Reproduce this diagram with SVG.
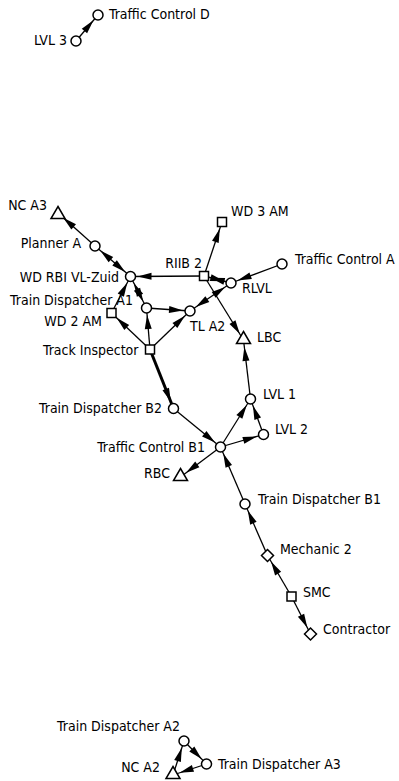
<svg xmlns="http://www.w3.org/2000/svg" xmlns:xlink="http://www.w3.org/1999/xlink" width="399" height="781" viewBox="0 0 399 781">
  <style>
    .edge { stroke: #000; stroke-width: 1.3; fill: none; marker-end: url(#arr); }
    .both { marker-start: url(#arr); }
    .heavy { stroke-width: 3; }
    .node use { fill: #fff; stroke: #000; stroke-width: 1.5; }
    text { font-family: "DejaVu Sans Condensed", "DejaVu Sans", sans-serif; font-stretch: condensed; font-size: 14px; fill: #000; }
    .l { text-anchor: end; }
  </style>
  <defs>
    <marker id="arr" viewBox="-22 -5 22 10" refX="0" refY="0" markerWidth="22" markerHeight="10" markerUnits="userSpaceOnUse" orient="auto-start-reverse">
      <path d="M-7,0 L-21,-3.5 L-21,3.5 z" fill="#000"/>
    </marker>
    <circle id="c" r="5"/>
    <rect id="s" x="-4.5" y="-4.5" width="9" height="9"/>
    <polygon id="t" points="0,-6.5 7,5.5 -7,5.5"/>
    <polygon id="d" points="0,-6 6,0 0,6 -6,0"/>
  </defs>

  <!-- connectors: drawn centre to centre, nodes cover the ends -->
  <g id="edges">
    <line class="edge" x1="76" y1="41" x2="98" y2="15"/>
    <line class="edge" x1="95" y1="246" x2="58" y2="213"/>
    <line class="edge both" x1="95" y1="246" x2="130.5" y2="276.5"/>
    <line class="edge" x1="204" y1="276" x2="130.5" y2="276.5"/>
    <line class="edge" x1="204" y1="276" x2="222" y2="222"/>
    <line class="edge both" x1="204" y1="276" x2="231" y2="283"/>
    <line class="edge" x1="282" y1="264" x2="231" y2="283"/>
    <line class="edge both" x1="231" y1="283" x2="190" y2="311"/>
    <line class="edge" x1="204" y1="276" x2="243.5" y2="340"/>
    <line class="edge both" x1="146.5" y1="308" x2="130.5" y2="276.5"/>
    <line class="edge" x1="111.5" y1="313" x2="130.5" y2="276.5"/>
    <line class="edge" x1="146.5" y1="308" x2="190" y2="311"/>
    <line class="edge" x1="150" y1="349.5" x2="111.5" y2="313"/>
    <line class="edge" x1="150" y1="349.5" x2="146.5" y2="308"/>
    <line class="edge" x1="150" y1="349.5" x2="190" y2="311"/>
    <line class="edge heavy" x1="150" y1="349.5" x2="173.5" y2="408.5"/>
    <line class="edge" x1="173.5" y1="408.5" x2="220.5" y2="447"/>
    <line class="edge" x1="220.5" y1="447" x2="250.5" y2="399"/>
    <line class="edge" x1="220.5" y1="447" x2="263.5" y2="434.5"/>
    <line class="edge" x1="263.5" y1="434.5" x2="250.5" y2="399"/>
    <line class="edge" x1="250.5" y1="399" x2="243.5" y2="340"/>
    <line class="edge" x1="220.5" y1="447" x2="180.5" y2="477"/>
    <line class="edge" x1="245" y1="504" x2="220.5" y2="447"/>
    <line class="edge" x1="267.5" y1="555.5" x2="245" y2="504"/>
    <line class="edge" x1="291.5" y1="596.5" x2="267.5" y2="555.5"/>
    <line class="edge" x1="291.5" y1="596.5" x2="310.5" y2="634"/>
    <line class="edge" x1="173" y1="775" x2="184" y2="741"/>
    <line class="edge" x1="184" y1="741" x2="206.5" y2="764"/>
    <line class="edge" x1="206.5" y1="764" x2="173" y2="775"/>
  </g>

  <!-- nodes -->
  <g id="n-traffic-control-d" class="node"><use href="#c" x="98" y="15"/><text x="109" y="18.5">Traffic Control D</text></g>
  <g id="n-lvl-3" class="node"><use href="#c" x="76" y="41"/><text class="l" x="67" y="44.5">LVL 3</text></g>
  <g id="n-nc-a3" class="node"><use href="#t" x="58" y="213"/><text class="l" x="47" y="209.5">NC A3</text></g>
  <g id="n-planner-a" class="node"><use href="#c" x="95" y="246"/><text class="l" x="81" y="248">Planner A</text></g>
  <g id="n-wd-rbi" class="node"><use href="#c" x="130.5" y="276.5"/><text class="l" x="119" y="281.5">WD RBI VL-Zuid</text></g>
  <g id="n-riib-2" class="node"><use href="#s" x="204" y="276"/><text class="l" x="202" y="267.5">RIIB 2</text></g>
  <g id="n-wd-3-am" class="node"><use href="#s" x="222" y="222"/><text x="231" y="216">WD 3 AM</text></g>
  <g id="n-traffic-control-a" class="node"><use href="#c" x="282" y="264"/><text x="295" y="263.5">Traffic Control A</text></g>
  <g id="n-rlvl" class="node"><use href="#c" x="231" y="283"/><text x="242" y="292.5">RLVL</text></g>
  <g id="n-train-dispatcher-a1" class="node"><use href="#c" x="146.5" y="308"/><text class="l" x="133" y="305">Train Dispatcher A1</text></g>
  <g id="n-wd-2-am" class="node"><use href="#s" x="111.5" y="313"/><text class="l" x="102" y="326">WD 2 AM</text></g>
  <g id="n-tl-a2" class="node"><use href="#c" x="190" y="311"/><text x="190" y="330.5">TL A2</text></g>
  <g id="n-track-inspector" class="node"><use href="#s" x="150" y="349.5"/><text class="l" x="138.5" y="355">Track Inspector</text></g>
  <g id="n-lbc" class="node"><use href="#t" x="243.5" y="338"/><text x="257" y="341.5">LBC</text></g>
  <g id="n-train-dispatcher-b2" class="node"><use href="#c" x="173.5" y="408.5"/><text class="l" x="162" y="412.5">Train Dispatcher B2</text></g>
  <g id="n-lvl-1" class="node"><use href="#c" x="250.5" y="399"/><text x="263" y="399">LVL 1</text></g>
  <g id="n-lvl-2" class="node"><use href="#c" x="263.5" y="434.5"/><text x="275" y="434">LVL 2</text></g>
  <g id="n-traffic-control-b1" class="node"><use href="#c" x="220.5" y="447"/><text class="l" x="205" y="451.5">Traffic Control B1</text></g>
  <g id="n-rbc" class="node"><use href="#t" x="180.5" y="475"/><text class="l" x="170" y="478">RBC</text></g>
  <g id="n-train-dispatcher-b1" class="node"><use href="#c" x="245" y="504"/><text x="258" y="503.5">Train Dispatcher B1</text></g>
  <g id="n-mechanic-2" class="node"><use href="#d" x="267.5" y="555.5"/><text x="280" y="554">Mechanic 2</text></g>
  <g id="n-smc" class="node"><use href="#s" x="291.5" y="596.5"/><text x="303" y="596.5">SMC</text></g>
  <g id="n-contractor" class="node"><use href="#d" x="310.5" y="634"/><text x="323" y="633.5">Contractor</text></g>
  <g id="n-train-dispatcher-a2" class="node"><use href="#c" x="184" y="741"/><text class="l" x="180" y="731">Train Dispatcher A2</text></g>
  <g id="n-train-dispatcher-a3" class="node"><use href="#c" x="206.5" y="764"/><text x="218" y="768.5">Train Dispatcher A3</text></g>
  <g id="n-nc-a2" class="node"><use href="#t" x="173" y="773"/><text class="l" x="160" y="772">NC A2</text></g>
</svg>
